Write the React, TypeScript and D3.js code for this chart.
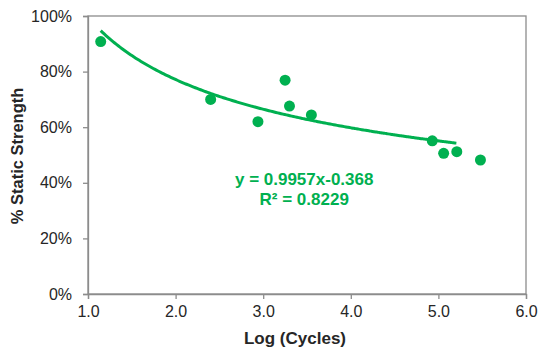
import React, { useEffect, useRef } from 'react';
import * as d3 from 'd3';

// log10 of cycles to failure
const logCycles = [1.145, 2.4, 2.94, 3.25, 3.3, 3.55, 4.93, 5.06, 5.21, 5.48];
// fraction of static strength
const staticStrength = [0.908, 0.70, 0.62, 0.769, 0.676, 0.644, 0.551, 0.506, 0.512, 0.482];

const xTicks = [1, 2, 3, 4, 5, 6];
const yTicks = [0, 0.2, 0.4, 0.6, 0.8, 1.0];

// power trendline from the chart label: y = a * x^b
const trendA = 0.9957;
const trendB = -0.368;
const trendRange = [1.145, 5.21];
const equationLabel = 'y = 0.9957x-0.368';
const r2Label = 'R² = 0.8229';

const GREEN = '#00B050';
const AXIS = '#8c8c8c';
const TEXT = '#262626';

const App: React.FC = () => {
  const svgRef = useRef<SVGSVGElement>(null);

  useEffect(() => {
    const svg = d3.select(svgRef.current);
    svg.selectAll('*').remove();

    const width = 550;
    const height = 357;
    const margin = { top: 16, right: 24, bottom: 63, left: 88 };
    const innerW = width - margin.left - margin.right;
    const innerH = height - margin.top - margin.bottom;

    svg.attr('width', width).attr('height', height);
    const g = svg.append('g').attr('transform', `translate(${margin.left},${margin.top})`);

    const x = d3.scaleLinear().domain([1, 6]).range([0, innerW]);
    const y = d3.scaleLinear().domain([0, 1]).range([innerH, 0]);

    // plot area border
    g.append('rect')
      .attr('x', 0).attr('y', 0)
      .attr('width', innerW).attr('height', innerH)
      .attr('fill', 'none')
      .attr('stroke', AXIS)
      .attr('stroke-width', 1.3);

    const font = 'Liberation Sans, Arial, sans-serif';

    const xAxis = g.append('g')
      .attr('transform', `translate(0,${innerH})`)
      .call(d3.axisBottom(x).tickValues(xTicks).tickSize(5).tickPadding(7).tickFormat(d3.format('.1f')));
    const yAxis = g.append('g')
      .call(d3.axisLeft(y).tickValues(yTicks).tickSize(5).tickPadding(11).tickFormat(d3.format('.0%')));

    [xAxis, yAxis].forEach(ax => {
      ax.select('.domain').attr('stroke', AXIS).attr('stroke-width', 1.3);
      ax.selectAll('.tick line').attr('stroke', AXIS).attr('stroke-width', 1.3);
      ax.selectAll('.tick text')
        .attr('fill', TEXT)
        .style('font-family', font)
        .style('font-size', '16px');
    });

    // trendline
    const trendXs = d3.range(trendRange[0], trendRange[1] + 0.001, 0.02);
    const line = d3.line<number>()
      .x(d => x(d))
      .y(d => y(trendA * Math.pow(d, trendB)))
      .curve(d3.curveMonotoneX);
    g.append('path')
      .datum(trendXs)
      .attr('d', line)
      .attr('fill', 'none')
      .attr('stroke', GREEN)
      .attr('stroke-width', 3);

    // points
    g.selectAll('.dot')
      .data(logCycles)
      .enter().append('circle')
      .attr('class', 'dot')
      .attr('cx', d => x(d))
      .attr('cy', (d, i) => y(staticStrength[i]))
      .attr('r', 5.5)
      .attr('fill', GREEN);

    // equation label
    const eq = g.append('text')
      .attr('x', x(3.468))
      .attr('text-anchor', 'middle')
      .attr('fill', GREEN)
      .style('font-family', font)
      .style('font-size', '17px')
      .style('font-weight', 'bold');
    eq.append('tspan').attr('x', x(3.468)).attr('y', 185 - margin.top).text(equationLabel);
    eq.append('tspan').attr('x', x(3.468)).attr('y', 205 - margin.top).text(r2Label);

    // axis titles
    svg.append('text')
      .attr('x', margin.left + innerW / 2 - 12)
      .attr('y', 344)
      .attr('text-anchor', 'middle')
      .attr('fill', TEXT)
      .style('font-family', font)
      .style('font-size', '17px')
      .style('font-weight', 'bold')
      .text('Log (Cycles)');

    svg.append('text')
      .attr('transform', `translate(23,${margin.top + innerH / 2 + 1}) rotate(-90)`)
      .attr('text-anchor', 'middle')
      .attr('fill', TEXT)
      .style('font-family', font)
      .style('font-size', '16.5px')
      .style('font-weight', 'bold')
      .text('% Static Strength');
  }, []);

  return (
    <svg ref={svgRef} style={{ position: 'absolute', left: 0, top: 0, background: '#fff' }}></svg>
  );
};

export default App;
